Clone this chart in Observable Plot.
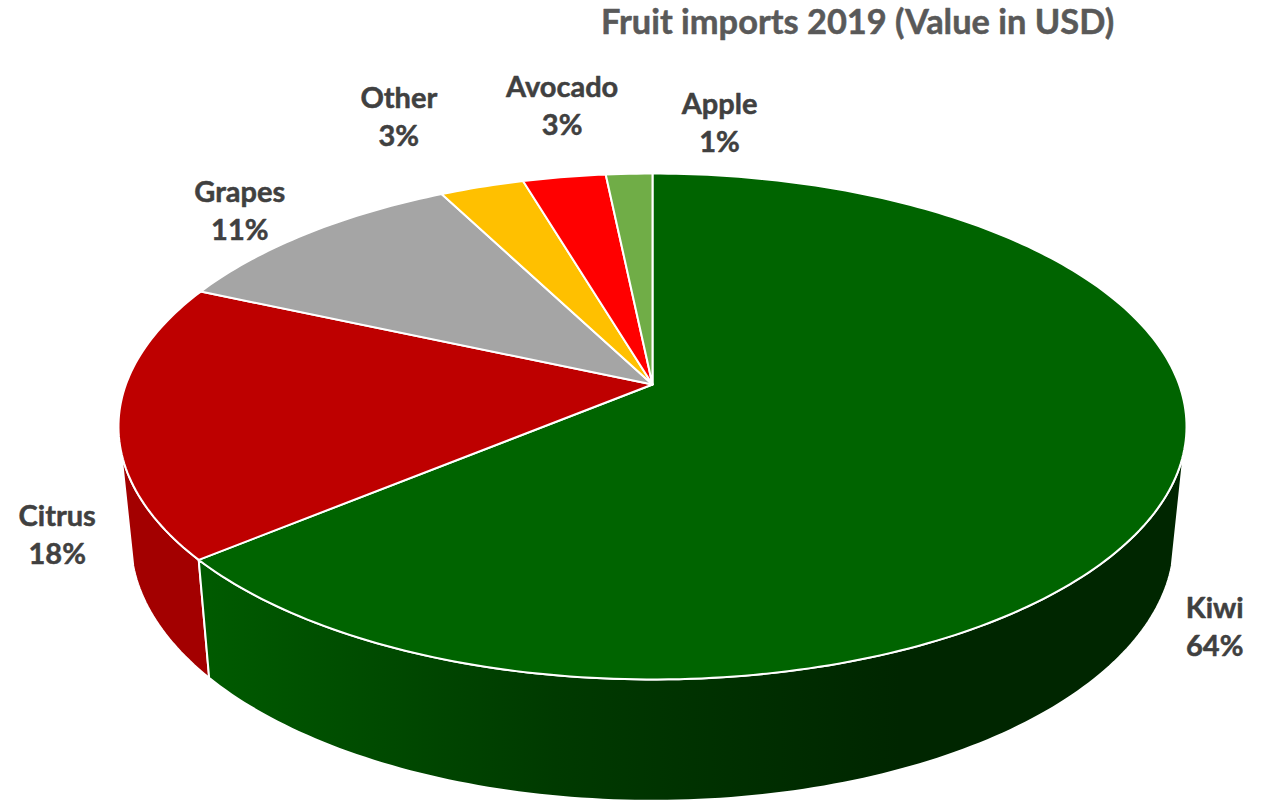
<!DOCTYPE html>
<html>
<head>
<meta charset="utf-8">
<style>html,body{margin:0;padding:0;background:#fff}svg{display:block}</style>
<script src="https://cdn.jsdelivr.net/npm/d3@7"></script>
<script src="https://cdn.jsdelivr.net/npm/@observablehq/plot@0.6"></script>
</head>
<body>
<script>
const chartTitle = "Fruit imports 2019 (Value in USD)";
const categories = ["Kiwi", "Citrus", "Grapes", "Other", "Avocado", "Apple"];
const values = [64, 17.6, 10.8, 3, 2.95, 1.65];
const percentLabels = ["64%", "18%", "11%", "3%", "3%", "1%"];
const topColors = ["#006400", "#BE0000", "#A5A5A5", "#FFC000", "#FF0000", "#70AD47"];
const labelDx = [49.5, -61.5, -68, -83, -2, 90.5];
const labelDy = [128, 114, -24, -72, -73, -53];
const kiwiWallStops = [[0, "#005a00"], [0.5, "#003a00"], [1, "#002600"]];
const citrusWallColor = "#A30000";

const W = 1273, H = 801;
// Perspective view of the pie's top and bottom discs.
const K = 0.166;
const topDisc = {cx: 652, cy: 384, a: 526.6, b: 246};
const bottomDisc = {cx: 652, cy: 497, a: 514.5, b: 253};
const project = (disc, deg) => {
  const t = deg * Math.PI / 180, u = Math.sin(t), v = -Math.cos(t), d = 1 - K * v;
  return {x: disc.cx + disc.a * u / d, y: disc.cy + disc.b * v / d};
};
const arc = (disc, from, to) => {
  const n = Math.max(2, Math.ceil(Math.abs(to - from))), pts = [];
  for (let i = 0; i <= n; i++) pts.push(project(disc, from + (to - from) * i / n));
  return pts;
};

const total = d3.sum(values);
const ends = d3.cumsum(values).map(v => v / total * 360);
const starts = [0, ...ends.slice(0, -1)];

const slices = categories.flatMap((name, i) =>
  [{x: topDisc.cx, y: topDisc.cy}, ...arc(topDisc, starts[i], ends[i])].map(p => ({...p, name})));

const WALL_FROM = 105, WALL_TO = 255;
const wall = (from, to) => [...arc(topDisc, from, to), ...arc(bottomDisc, to, from)];
const kiwiWall = wall(WALL_FROM, ends[0]);
const citrusWall = wall(ends[0], WALL_TO);

const labels = categories.map((name, i) => ({
  ...project(topDisc, (starts[i] + ends[i]) / 2),
  text: name + "\n" + percentLabels[i], dx: labelDx[i], dy: labelDy[i]
}));

const gradientDefs = (index, {x}) => {
  const defs = d3.create("svg:defs");
  const g = defs.append("linearGradient").attr("id", "kiwiWall")
    .attr("gradientUnits", "userSpaceOnUse")
    .attr("x1", x(209)).attr("x2", x(900)).attr("y1", 0).attr("y2", 0);
  kiwiWallStops.forEach(([o, c]) => g.append("stop").attr("offset", o).attr("stop-color", c));
  return defs.node();
};

const lineOpts = {x: "x", y: "y", curve: "linear-closed", stroke: "white", strokeWidth: 2, strokeLinejoin: "round"};

const chart = Plot.plot({
  width: W, height: H,
  margin: 0,
  style: {background: "#fff", fontFamily: "Lato"},
  x: {domain: [0, W], range: [0, W], axis: null},
  y: {domain: [0, H], range: [0, H], axis: null},
  color: {type: "ordinal", domain: categories, range: topColors},
  marks: [
    gradientDefs,
    Plot.line(citrusWall, {...lineOpts, fill: citrusWallColor}),
    Plot.line(kiwiWall, {...lineOpts, fill: "url(#kiwiWall)"}),
    Plot.line(slices, {...lineOpts, fill: "name", z: "name"}),
    ...labels.map(l => Plot.text([l], {
      x: "x", y: "y", text: "text", dx: l.dx, dy: l.dy,
      fontSize: 29, fontWeight: 700, fill: "#404040", stroke: "#404040", strokeWidth: 0.5,
      lineHeight: 1.31, textAnchor: "middle", lineAnchor: "middle"
    })),
    Plot.text([chartTitle], {
      x: [857], y: [22], text: d => d,
      fontSize: 34.4, fontWeight: 700, fill: "#595959", stroke: "#595959", strokeWidth: 0.5,
      textAnchor: "middle", lineAnchor: "middle"
    })
  ]
});
document.body.append(chart);
</script>
</body>
</html>
